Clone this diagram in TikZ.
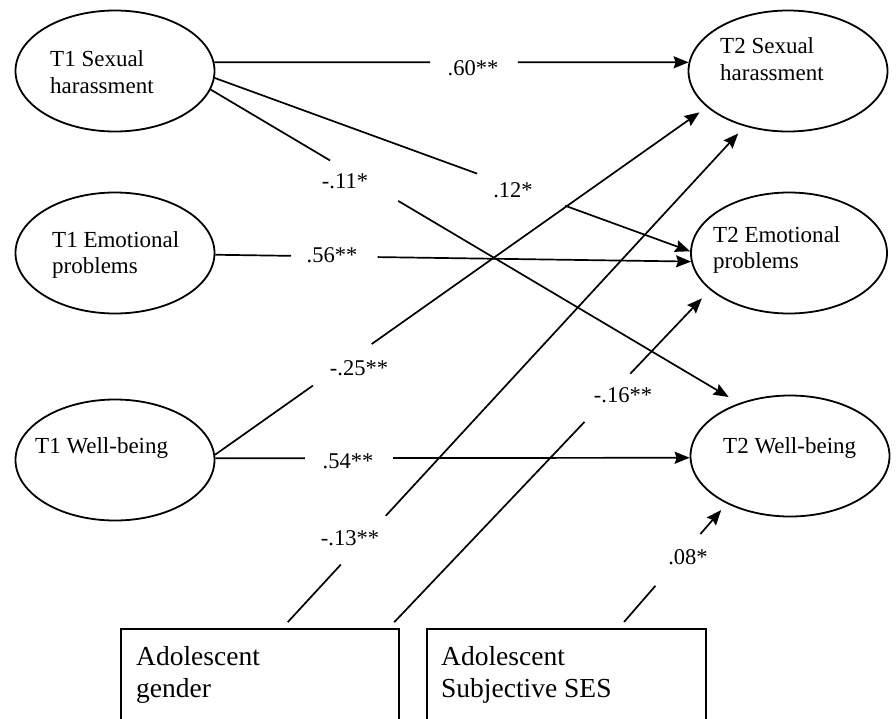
\documentclass[tikz,border=0pt]{standalone}
\usepackage{fontspec}
\setmainfont{Liberation Serif}
\usetikzlibrary{calc,arrows.meta,shapes.geometric}
\begin{document}
\begin{tikzpicture}[x=1pt,y=-1pt,
  every node/.style={font=\fontsize{22}{26}\selectfont},
  latent/.style={draw, ellipse, line width=1.8pt, minimum width=199pt, minimum height=121pt, inner sep=0pt},
  obsbox/.style={draw, rectangle, line width=1.6pt, minimum width=278pt, minimum height=200pt, inner sep=0pt, anchor=north west},
  txt/.style={anchor=base west, inner sep=0pt, font=\fontsize{23}{27}\selectfont},
  boxtxt/.style={anchor=base west, inner sep=0pt, font=\fontsize{27.5}{33}\selectfont},
  coef/.style={anchor=base, inner sep=0pt, font=\fontsize{22.5}{26}\selectfont},
  conn/.style={line width=1.7pt},
  arr/.style={line width=1.7pt, -{Stealth[length=15pt,width=12pt,inset=2pt]}}
]
\useasboundingbox (0,0) rectangle (896,718);
\clip (0,0) rectangle (896,718);
\fill[white] (0,0) rectangle (896,718);

% latent variables
\node[latent] (t1sh) at (115,71) {};
\node[latent] (t1ep) at (115,253) {};
\node[latent] (t1wb) at (115,460) {};
\node[latent] (t2sh) at (788,71) {};
\node[latent, minimum width=196pt] (t2ep) at (789,253) {};
\node[latent] (t2wb) at (790,456) {};

% observed covariates (bottom cut off by the frame)
\node[obsbox] (gender) at (120,628) {};
\node[obsbox, minimum width=279pt] (ses) at (426,628) {};

% texts
\node[txt] (t1sh-a) at (50,66) {T1 Sexual};
\node[txt] (t1sh-b) at (50,93) {harassment};
\node[txt] (t1ep-a) at (52,247) {T1 Emotional};
\node[txt] (t1ep-b) at (52,273) {problems};
\node[txt] (t1wb-a) at (35,453) {T1 Well-being};
\node[txt] (t2sh-a) at (720,53) {T2 Sexual};
\node[txt] (t2sh-b) at (720,80) {harassment};
\node[txt] (t2ep-a) at (713,242) {T2 Emotional};
\node[txt] (t2ep-b) at (713,268) {problems};
\node[txt] (t2wb-a) at (723,453) {T2 Well-being};
\node[boxtxt] (gen-a) at (136,665) {Adolescent};
\node[boxtxt] (gen-b) at (136,697) {gender};
\node[boxtxt] (ses-a) at (441,665) {Adolescent};
\node[boxtxt] (ses-b) at (441,697) {Subjective SES};

% .60**
\draw[conn] (t1sh.5) -- ($(t1sh.5)!0.455!(t2sh.175)$);
\draw[arr] ($(t1sh.5)!0.64!(t2sh.175)$) -- (t2sh.175);
\node[coef] (c60) at (473,75) {.60**};

% .12*
\draw[conn] (t1sh.356) -- ($(t1sh.356)!0.552!(t2ep.179)$);
\draw[arr] ($(t1sh.356)!0.737!(t2ep.179)$) -- (t2ep.179);
\node[coef] (c12) at (513,197) {.12*};

% -.11*
\draw[conn] (t1sh.349) -- ($(t1sh.349)!0.226!(t2wb.134)$);
\draw[arr, shorten >=12pt] ($(t1sh.349)!0.355!(t2wb.134)$) -- (t2wb.134);
\node[coef] (c11) at (345,188) {-.11*};

% .56**
\draw[conn] (t1ep.359) -- ($(t1ep.359)!0.159!(t2ep.185)$);
\draw[arr] ($(t1ep.359)!0.341!(t2ep.185)$) -- (t2ep.185);
\node[coef] (c56) at (332,262) {.56**};

% -.25**
\draw[conn] (t1wb.3) -- ($(t1wb.3)!0.199!(t2sh.204)$);
\draw[arr, shorten >=9pt] ($(t1wb.3)!0.3185!(t2sh.204)$) -- (t2sh.204);
\node[coef] (c25) at (359,375) {-.25**};

% .54**
\draw[conn] (t1wb.1) -- ($(t1wb.1)!0.189!(t2wb.181)$);
\draw[arr] ($(t1wb.1)!0.375!(t2wb.181)$) -- (t2wb.181);
\node[coef] (c54) at (348,468) {.54**};

% -.13**
\coordinate (g1) at ($(gender.north west)!0.5806!(gender.north east)$);
\draw[conn, shorten <=8pt] (g1) -- ($(g1)!0.1265!(t2sh.232)$);
\draw[arr, shorten >=9.6pt] ($(g1)!0.2237!(t2sh.232)$) -- (t2sh.232);
\node[coef] (c13) at (350,545) {-.13**};

% -.16**
\coordinate (g2) at ($(gender.north west)!0.961!(gender.north east)$);
\draw[conn, shorten <=8pt] (g2) -- ($(g2)!0.6095!(t2ep.205)$);
\draw[arr, shorten >=11.7pt] ($(g2)!0.752!(t2ep.205)$) -- (t2ep.205);
\node[coef] (c16) at (623,402) {-.16**};

% .08*
\coordinate (s1) at ($(ses.north west)!0.687!(ses.north east)$);
\draw[conn, shorten <=8pt] (s1) -- ($(s1)!0.34!(t2wb.217)$);
\draw[arr, shorten >=8.5pt] ($(s1)!0.756!(t2wb.217)$) -- (t2wb.217);
\node[coef] (c08) at (688,564) {.08*};
\end{tikzpicture}
\end{document}
